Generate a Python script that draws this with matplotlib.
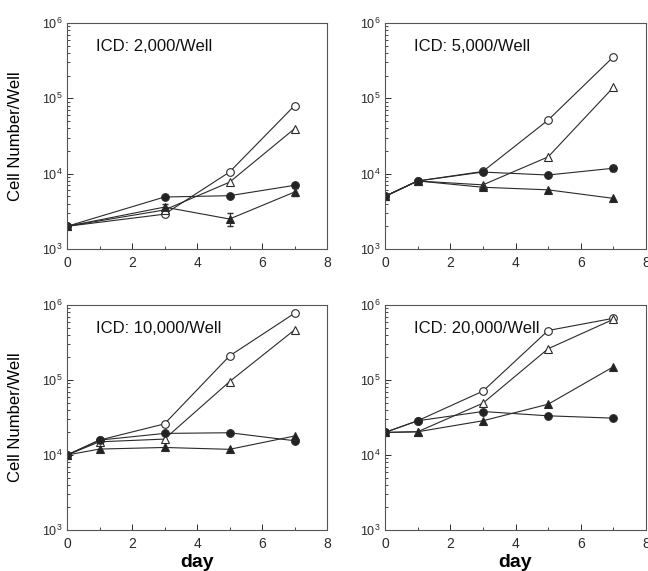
"""Cell growth curves at four initial cell densities."""

import matplotlib
matplotlib.use("Agg")
import matplotlib.pyplot as plt
from matplotlib.ticker import FixedLocator, LogLocator, NullFormatter

plt.rcParams["font.family"] = ["Liberation Sans", "DejaVu Sans"]

# days sampled
days_2000 = [0, 3, 5, 7]
days_other = [0, 1, 3, 5, 7]

# ICD 2,000/well
d2000_open_circle = [2000, 2900, 10500, 80000]
d2000_open_tri = [2000, 3300, 7700, 39500]
d2000_fill_circle = [2000, 4900, 5100, 7000]
d2000_fill_tri = [2000, 3600, 2500, 5700]
d2000_fill_tri_err = [0, 300, 500, 700]

# ICD 5,000/well
d5000_open_circle = [5000, 8000, 10700, 51500, 355000]
d5000_open_tri = [5000, 8000, 7100, 16700, 140000]
d5000_fill_circle = [5000, 8000, 10500, 9600, 11800]
d5000_fill_tri = [5000, 8000, 6600, 6100, 4700]
d5000_fill_circle_err = [0, 0, 0, 0, 1000]

# ICD 10,000/well
d10000_open_circle = [10000, 15800, 26000, 209000, 775000]
d10000_open_tri = [10000, 15000, 16300, 95000, 465000]
d10000_fill_circle = [10000, 15800, 19400, 19800, 15500]
d10000_fill_tri = [10000, 12000, 12600, 11900, 17900]

# ICD 20,000/well
d20000_open_circle = [20000, 28600, 71000, 457000, 665000]
d20000_open_tri = [20000, 20400, 49000, 261000, 645000]
d20000_fill_circle = [20000, 28600, 38000, 33300, 31000]
d20000_fill_tri = [20000, 20400, 28600, 47500, 150000]

titles = ["ICD: 2,000/Well", "ICD: 5,000/Well", "ICD: 10,000/Well", "ICD: 20,000/Well"]
y_ticks = [1e3, 1e4, 1e5, 1e6]
y_tick_labels = [r"$\mathregular{10^3}$", r"$\mathregular{10^4}$",
                 r"$\mathregular{10^5}$", r"$\mathregular{10^6}$"]
x_ticks = [0, 2, 4, 6, 8]


def main():
    fig = plt.figure(figsize=(6.48, 5.71), dpi=100)
    rects = [
        (67 / 648, 1 - 249 / 571, 260 / 648, 226 / 571),
        (385 / 648, 1 - 249 / 571, 261 / 648, 226 / 571),
        (67 / 648, 1 - 530 / 571, 260 / 648, 225 / 571),
        (385 / 648, 1 - 530 / 571, 261 / 648, 225 / 571),
    ]
    panels = [
        (days_2000, [d2000_open_circle, d2000_open_tri, d2000_fill_circle, d2000_fill_tri],
         {3: d2000_fill_tri_err}),
        (days_other, [d5000_open_circle, d5000_open_tri, d5000_fill_circle, d5000_fill_tri],
         {2: d5000_fill_circle_err}),
        (days_other, [d10000_open_circle, d10000_open_tri, d10000_fill_circle, d10000_fill_tri],
         {}),
        (days_other, [d20000_open_circle, d20000_open_tri, d20000_fill_circle, d20000_fill_tri],
         {}),
    ]
    styles = [
        dict(marker="o", mfc="white"),
        dict(marker="^", mfc="white"),
        dict(marker="o", mfc="#222222"),
        dict(marker="^", mfc="#222222"),
    ]
    ink = "#2a2a2a"

    for i, (rect, (days, series, errs), title) in enumerate(zip(rects, panels, titles)):
        ax = fig.add_axes(rect)
        for j, (vals, style) in enumerate(zip(series, styles)):
            ax.plot(days, vals, color=ink, lw=0.8, ms=5.5, mec=ink, mew=0.8, **style)
            if j in errs:
                ax.errorbar(days, vals, yerr=errs[j], fmt="none", ecolor=ink,
                            elinewidth=0.8, capsize=2)
        ax.set_yscale("log")
        ax.set_ylim(1e3, 1e6)
        ax.set_xlim(0, 8)
        ax.yaxis.set_major_locator(FixedLocator(y_ticks))
        ax.set_yticklabels(y_tick_labels, fontsize=9)
        ax.yaxis.set_minor_locator(LogLocator(base=10, subs=range(2, 10)))
        ax.yaxis.set_minor_formatter(NullFormatter())
        ax.set_xticks(x_ticks)
        ax.set_xticklabels([str(t) for t in x_ticks], fontsize=10)
        ax.set_xticks([1, 3, 5, 7], minor=True)
        ax.tick_params(direction="in", which="both", colors=ink)
        ax.tick_params(axis="y", pad=3)
        ax.tick_params(axis="x", pad=5)
        ax.tick_params(which="major", length=4, width=0.7)
        ax.tick_params(which="minor", length=2, width=0.6)
        for spine in ax.spines.values():
            spine.set_color("#555555")
            spine.set_linewidth(0.8)
        ax.text(0.11, 0.93, title, transform=ax.transAxes, fontsize=12,
                ha="left", va="top", color="#111111")
        if i % 2 == 0:
            ax.set_ylabel("Cell Number/Well", fontsize=12, labelpad=14)
        if i >= 2:
            ax.set_xlabel("day", fontsize=14, fontweight="bold", labelpad=2)

    plt.savefig("out.png", dpi=100)


if __name__ == "__main__":
    main()
